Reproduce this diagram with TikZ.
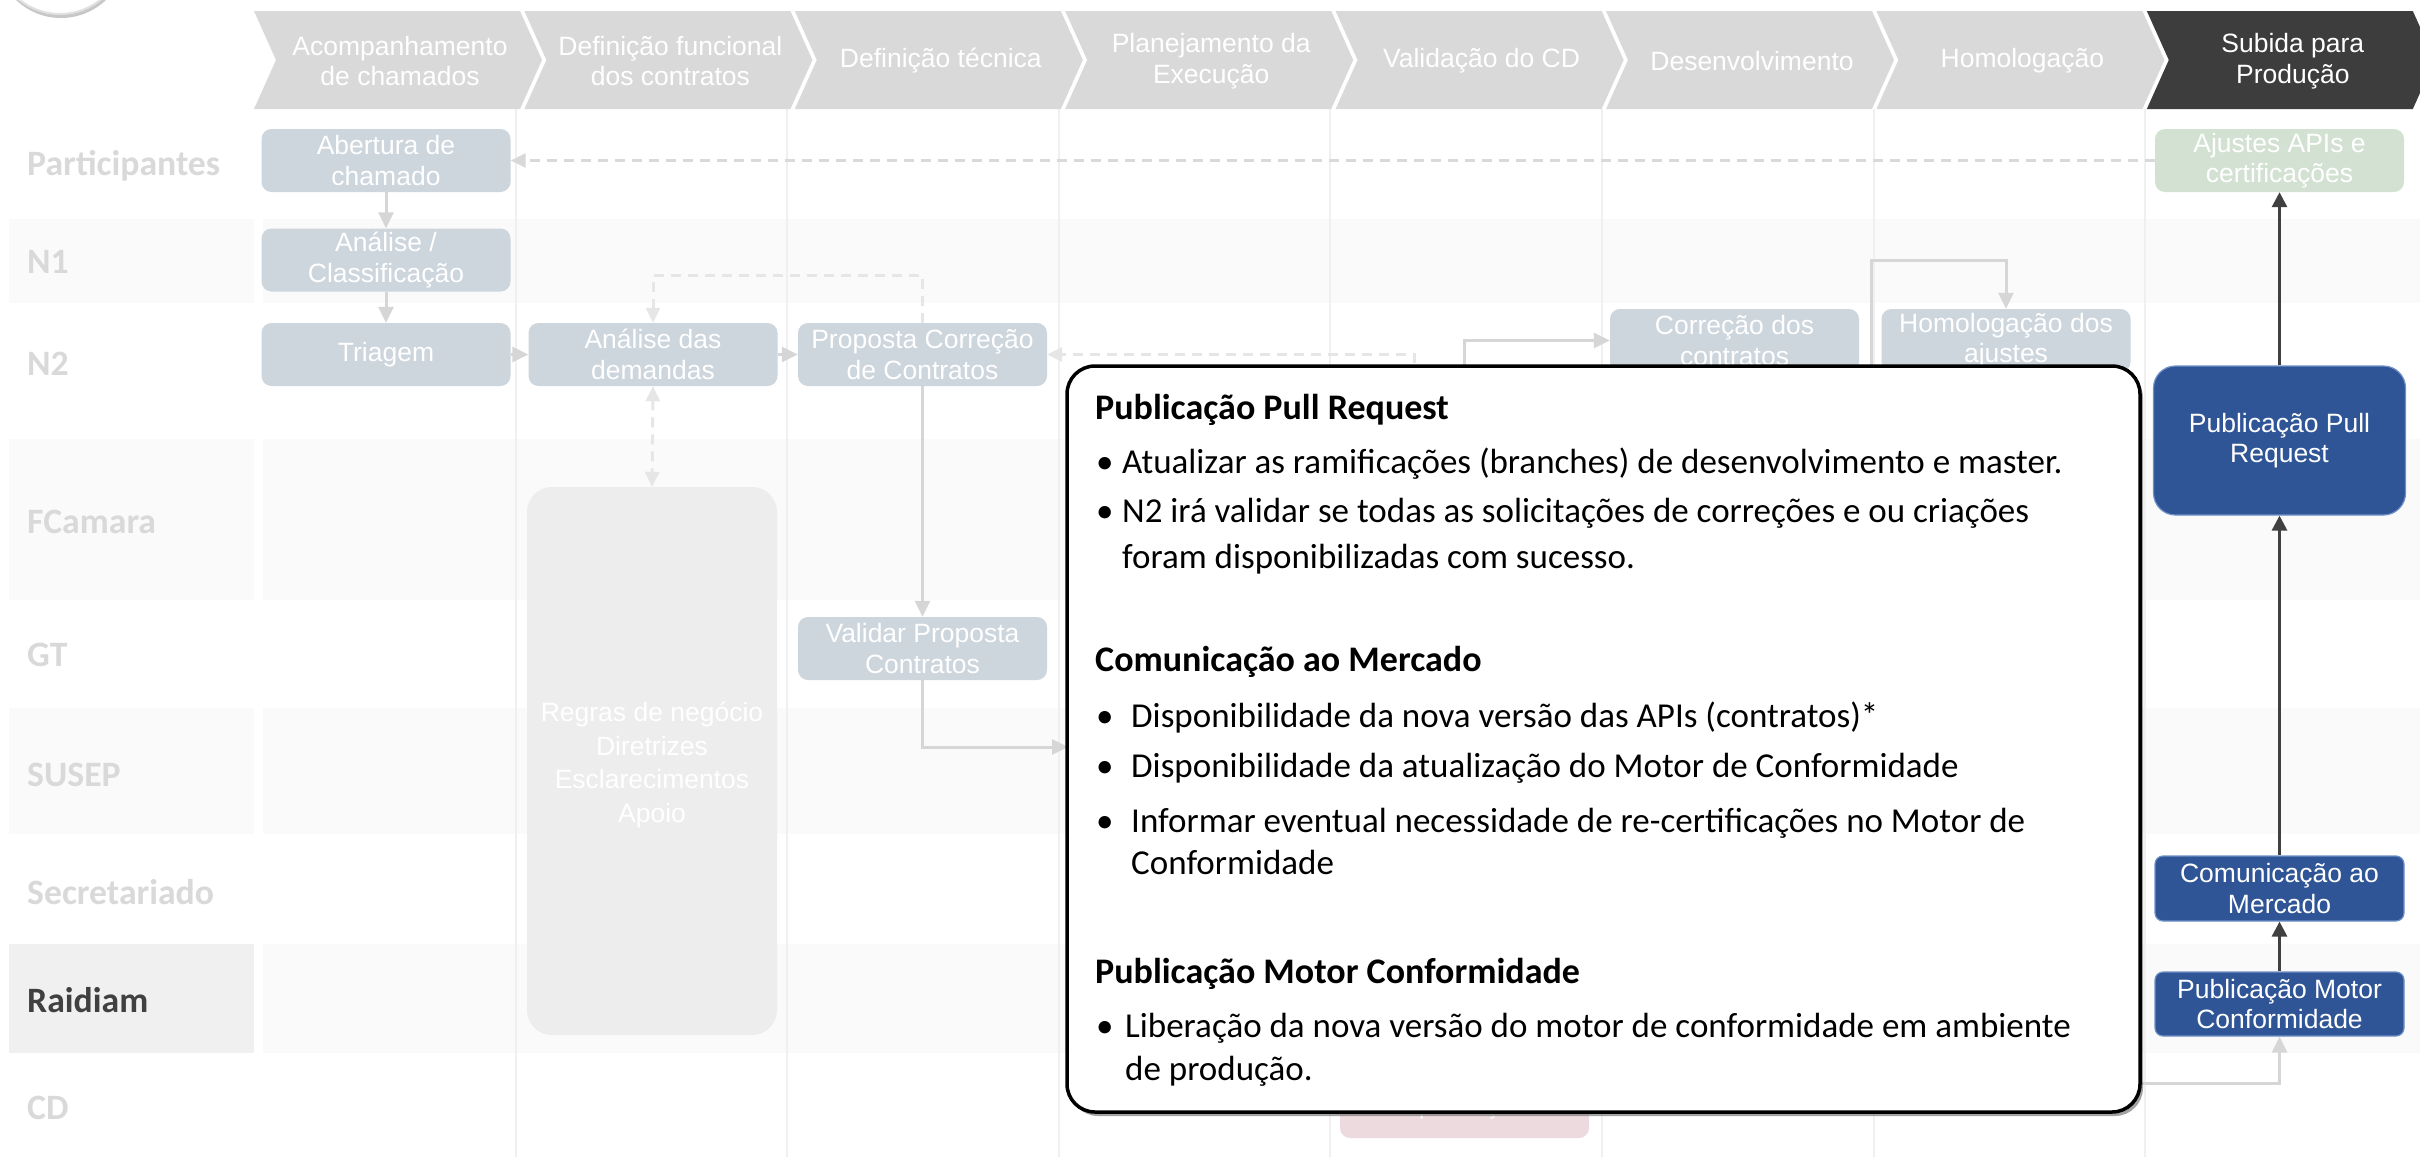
\documentclass[tikz,border=0pt]{standalone}
\usepackage{fontspec}
\setmainfont{Liberation Sans}
\newfontfamily\calfont{Carlito}
\usetikzlibrary{arrows.meta,calc,shadows}
\definecolor{boxgray}{HTML}{CDD5DD}
\definecolor{chevgray}{HTML}{D9D9D9}
\definecolor{chevdark}{HTML}{3D3D3D}
\definecolor{rowshade}{HTML}{FAFAFA}
\definecolor{rowdark}{HTML}{F0F0F0}
\definecolor{gridc}{HTML}{F0F0F0}
\definecolor{arrowgray}{HTML}{D6D6D6}
\definecolor{dashgray}{HTML}{E6E6E6}
\definecolor{dashmid}{HTML}{D9D9D9}
\definecolor{labelgray}{HTML}{D9D9D9}
\definecolor{darktxt}{HTML}{404040}
\definecolor{greenbox}{HTML}{D3E1D3}
\definecolor{bluebox}{HTML}{2F5597}
\definecolor{blueedge}{HTML}{7090C8}
\definecolor{regrasfill}{HTML}{EDEDED}
\definecolor{pinkbox}{HTML}{EDDADF}
\definecolor{arrowdark}{HTML}{404040}
\begin{document}
\begin{tikzpicture}[x=1pt,y=-1pt,
  arialtxt/.style={font=\fontsize{26.5}{30.5}\selectfont},
  procbox/.style={rectangle, rounded corners=10pt, fill=boxgray, text=white,
    minimum width=249pt, minimum height=63pt, inner sep=2pt, align=center, arialtxt},
  bluenode/.style={procbox, fill=bluebox, draw=blueedge, line width=1.2pt, rounded corners=8pt},
  lanelabel/.style={anchor=west, inner sep=0pt, text=labelgray,
    font=\calfont\bfseries\fontsize{35.7}{40}\selectfont},
  chevtxt/.style={text=white, align=center, arialtxt, inner sep=0pt},
  garrow/.style={draw=arrowgray, line width=3pt, -{Triangle[length=16pt,width=15pt]}},
  dasharrow/.style={draw=dashgray, line width=3pt, dash pattern=on 10pt off 7pt,
    -{Triangle[length=15pt,width=14pt]}},
  karrow/.style={draw=arrowdark, line width=3pt, -{Triangle[length=15pt,width=15pt]}},
  ctitle/.style={anchor=base west, inner sep=0pt, font=\calfont\bfseries\fontsize{36}{40}\selectfont},
  cbody/.style={anchor=base west, inner sep=0pt, font=\calfont\fontsize{35}{40}\selectfont},
  callout/.style={rectangle, draw=black, line width=3.5pt, fill=white, rounded corners=28pt,
    minimum width=1073pt, minimum height=746pt, inner sep=0pt,
    drop shadow={shadow xshift=3pt, shadow yshift=-4pt, fill=black!60, opacity=0.6}}
]
\useasboundingbox (0,0) rectangle (2420,1157);
\fill[white] (0,0) rectangle (2420,1157);

% top-left circle
\fill[black!22] (61,-47) circle (65pt);
\draw[line width=2pt, draw=black!12, fill=white] (60,-51) circle (65pt);

% row shading
\foreach \ya/\yb in {219/303, 439/600, 708/834, 944/1053}{
  \fill[rowshade] (9,\ya) rectangle (254,\yb);
  \fill[rowshade] (263,\ya) rectangle (2420,\yb);
}
\fill[rowdark] (9,944) rectangle (254,1053);

% grid lines
\foreach \x in {516,787,1059,1330,1602,1874,2145}{
  \draw[gridc, line width=1.5pt] (\x,109) -- (\x,1157);
}

% chevrons
\foreach \k/\t in {0/{Acompanhamento\\de chamados},1/{Definição funcional\\dos contratos},
  2/{Definição técnica},3/{Planejamento da\\Execução},4/{Validação do CD},
  5/{Desenvolvimento},6/{Homologação}}{
  \pgfmathsetmacro{\L}{254+270.4*\k}
  \fill[chevgray] (\L,11) -- (\L+266,11) -- (\L+288,60) -- (\L+266,109) -- (\L,109) -- (\L+22,60) -- cycle;
  \node[chevtxt] (ch\k) at (\L+146,61) {\t};
}
\pgfmathsetmacro{\L}{254+270.4*7}
\fill[chevdark] (\L,11) -- (\L+266,11) -- (\L+288,60) -- (\L+266,109) -- (\L,109) -- (\L+22,60) -- cycle;
\node[chevtxt] (ch7) at (\L+146,61) {Subida para\\Produção};

% lane labels
\node[lanelabel] (lp) at (27,166) {Participantes};
\node[lanelabel] (ln1) at (27,262) {N1};
\node[lanelabel] (ln2) at (27,364) {N2};
\node[lanelabel] (lfc) at (27,522) {FCamara};
\node[lanelabel] (lgt) at (27,655) {GT};
\node[lanelabel] (lsu) at (27,775) {SUSEP};
\node[lanelabel] (lse) at (27,892) {Secretariado};
\node[lanelabel, text=darktxt] (lra) at (27,1000) {Raidiam};
\node[lanelabel] (lcd) at (27,1108) {CD};

% process boxes
\node[procbox] (abertura) at (386,160.5) {Abertura de\\chamado};
\node[procbox] (analise) at (386,260) {Análise /\\Classificação};
\node[procbox] (triagem) at (386,354.5) {Triagem};
\node[procbox] (demandas) at (653,354.5) {Análise das\\demandas};
\node[procbox] (proposta) at (922.5,354.5) {Proposta Correção\\de Contratos};
\node[procbox] (validar) at (922.5,648.5) {Validar Proposta\\Contratos};
\node[procbox] (correcao) at (1734.5,340.5) {Correção dos\\contratos};
\node[procbox] (homolog) at (2006,340.5) {Homologação dos\\ajustes};
\node[procbox, fill=greenbox] (ajustes) at (2279.5,160.5) {Ajustes APIs e\\certificações};
\node[procbox, fill=pinkbox, minimum height=62pt] (aprov) at (1464.5,1107) {Aprovação};
\node[procbox, fill=regrasfill, rounded corners=25pt, minimum width=250pt, minimum height=548pt,
  font=\fontsize{26.5}{33.5}\selectfont] (regras) at (652,761) {};
\node[text=white, align=center, inner sep=0pt, font=\fontsize{26.5}{33.5}\selectfont] (regrastxt) at (652,765)
  {Regras de negócio\\Diretrizes\\Esclarecimentos\\Apoio};

% right column (production)
\node[bluenode, rounded corners=22pt, minimum width=252pt, minimum height=149pt] (pullreq) at (2279.5,440.5) {Publicação Pull\\Request};
\node[bluenode, minimum height=65pt] (comunic) at (2279.5,888.5) {Comunicação ao\\Mercado};
\node[bluenode, minimum height=64pt] (motor) at (2279.5,1004) {Publicação Motor\\Conformidade};

% hidden-end coordinates (under the callout)
\coordinate (c1) at (1068,747);
\coordinate (c2) at (1414,380);
\coordinate (c3) at (1464,380);
\coordinate (c4) at (1871,380);
\coordinate (c5) at (2120,1083);

% connectors (light)
\draw[garrow] (abertura) -- (analise);
\draw[garrow] (analise) -- (triagem);
\draw[garrow] (triagem) -- (demandas);
\draw[garrow] (demandas) -- (proposta);
\draw[garrow] (proposta) -- (validar);
\draw[garrow] (validar.south) |- (c1);
\draw[dasharrow] (proposta.north) -- ++(0,-47) -| (demandas.north);
\draw[dasharrow, {Triangle[length=15pt,width=14pt]}-{Triangle[length=15pt,width=14pt]}] (demandas.south) -- (regras.north);
\draw[dasharrow] (c2) |- (proposta.east);
\draw[garrow] (c3) |- (correcao.west);
\draw[garrow] (c4) -- (1871,260) -| (homolog.north);
\draw[garrow] (c5) -| (motor.south);
\draw[dasharrow, draw=dashmid] (ajustes.west) -- (abertura.east);

% dark connectors
\draw[karrow] (pullreq) -- (ajustes);
\draw[karrow] (comunic) -- (pullreq);
\draw[karrow] (motor) -- (comunic);

% callout
\node[callout] (callout) at (1603.5,739) {};

\node[ctitle] (t1) at (1095,419) {Publicação Pull Request};
\node[cbody] (b1) at (1096,473) {•};
\node[cbody] (t2) at (1122,473) {Atualizar as ramificações (branches) de desenvolvimento e master.};
\node[cbody] (b2) at (1096,522) {•};
\node[cbody] (t3) at (1122,522) {N2 irá validar se todas as solicitações de correções e ou criações};
\node[cbody] (t4) at (1122,568) {foram disponibilizadas com sucesso.};
\node[ctitle] (t5) at (1095,671) {Comunicação ao Mercado};
\node[cbody] (b3) at (1096,727) {•};
\node[cbody] (t6) at (1131,727) {Disponibilidade da nova versão das APIs (contratos)*};
\node[cbody] (b4) at (1096,777) {•};
\node[cbody] (t7) at (1131,777) {Disponibilidade da atualização do Motor de Conformidade};
\node[cbody] (b5) at (1096,832) {•};
\node[cbody] (t8) at (1131,832) {Informar eventual necessidade de re-certificações no Motor de};
\node[cbody] (t9) at (1131,874) {Conformidade};
\node[ctitle] (t10) at (1095,983) {Publicação Motor Conformidade};
\node[cbody] (b6) at (1096,1037) {•};
\node[cbody] (t11) at (1125,1037) {Liberação da nova versão do motor de conformidade em ambiente};
\node[cbody] (t12) at (1125,1080) {de produção.};
\end{tikzpicture}
\end{document}
